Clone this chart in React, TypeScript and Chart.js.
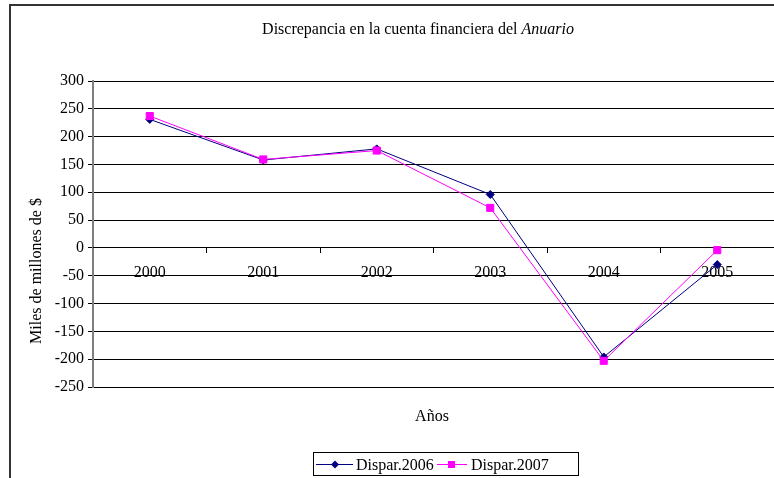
import React, { useEffect, useRef } from "react";
import { Chart, registerables } from "chart.js";

Chart.register(...registerables);

const categories = ["2000", "2001", "2002", "2003", "2004", "2005"];
const dispar2006 = [231, 158, 178, 96, -196, -30];
const dispar2007 = [237, 159, 175, 72, -203, -4];
const seriesNames = ["Dispar.2006", "Dispar.2007"];
const titleMain = "Discrepancia en la cuenta financiera del ";
const titleItalic = "Anuario";
const yTitle = "Miles de millones de $";
const xTitle = "Años";

const FONT = '"Liberation Serif", "Times New Roman", serif';
const FS = 16;
const NAVY = "#000080";
const MAGENTA = "#FF00FF";

const decorPlugin = {
  id: "decor",
  beforeDraw(chart: any) {
    const ctx = chart.ctx;
    ctx.save();
    ctx.fillStyle = "#ffffff";
    ctx.fillRect(0, 0, chart.width, chart.height);
    ctx.restore();
  },
  afterDraw(chart: any) {
    const ctx = chart.ctx;
    ctx.save();
    // outer frame
    ctx.strokeStyle = "#333333";
    ctx.lineWidth = 2;
    ctx.strokeRect(10, 5, 900, 600);

    // title
    ctx.fillStyle = "#000";
    ctx.textBaseline = "alphabetic";
    ctx.font = `${FS}px ${FONT}`;
    const w1 = ctx.measureText(titleMain).width;
    ctx.font = `italic ${FS}px ${FONT}`;
    const w2 = ctx.measureText(titleItalic).width;
    const tx = 418 - (w1 + w2) / 2;
    ctx.font = `${FS}px ${FONT}`;
    ctx.textAlign = "left";
    ctx.fillText(titleMain, tx, 34);
    ctx.font = `italic ${FS}px ${FONT}`;
    ctx.fillText(titleItalic, tx + w1, 34);

    // x title
    ctx.font = `${FS}px ${FONT}`;
    ctx.textAlign = "center";
    ctx.fillText(xTitle, 432, 421);

    // y title
    ctx.save();
    ctx.translate(41, 271);
    ctx.rotate(-Math.PI / 2);
    ctx.textAlign = "center";
    ctx.fillText(yTitle, 0, 0);
    ctx.restore();

    // legend
    ctx.strokeStyle = "#000";
    ctx.lineWidth = 1;
    ctx.strokeRect(313.5, 452.5, 265, 23);
    const ly = 464.5;
    // item 1
    ctx.strokeStyle = NAVY;
    ctx.beginPath();
    ctx.moveTo(316, ly);
    ctx.lineTo(353, ly);
    ctx.stroke();
    ctx.fillStyle = NAVY;
    ctx.beginPath();
    ctx.moveTo(335 - 4, ly);
    ctx.lineTo(335, ly - 4);
    ctx.lineTo(335 + 4, ly);
    ctx.lineTo(335, ly + 4);
    ctx.closePath();
    ctx.fill();
    ctx.fillStyle = "#000";
    ctx.textAlign = "left";
    ctx.font = `${FS}px ${FONT}`;
    ctx.fillText(seriesNames[0], 356, 470);
    // item 2
    ctx.strokeStyle = MAGENTA;
    ctx.beginPath();
    ctx.moveTo(437, ly);
    ctx.lineTo(467, ly);
    ctx.stroke();
    ctx.fillStyle = MAGENTA;
    ctx.fillRect(448, ly - 3.5, 7, 7);
    ctx.fillStyle = "#000";
    ctx.fillText(seriesNames[1], 471, 470);
    ctx.restore();
  },
};

export default function App() {
  const ref = useRef<HTMLCanvasElement | null>(null);
  useEffect(() => {
    if (!ref.current) return;
    const chart = new Chart(ref.current, {
      type: "line",
      data: {
        labels: categories,
        datasets: [
          {
            label: seriesNames[0],
            data: dispar2006,
            borderColor: NAVY,
            backgroundColor: NAVY,
            borderWidth: 1,
            pointStyle: "rectRot",
            pointRadius: 4,
            pointBorderWidth: 1,
            pointBackgroundColor: NAVY,
            pointBorderColor: NAVY,
            tension: 0,
            order: 1,
          },
          {
            label: seriesNames[1],
            data: dispar2007,
            borderColor: MAGENTA,
            backgroundColor: MAGENTA,
            borderWidth: 1,
            pointStyle: "rect",
            pointRadius: 5,
            pointBorderWidth: 1,
            pointBackgroundColor: MAGENTA,
            pointBorderColor: MAGENTA,
            tension: 0,
            order: 0,
          },
        ],
      },
      options: {
        responsive: false,
        animation: false,
        devicePixelRatio: 1,
        layout: { autoPadding: false, padding: { left: 0, top: 81, right: 0, bottom: 91 } },
        plugins: {
          legend: { display: false },
          title: { display: false },
          tooltip: { enabled: false },
        },
        scales: {
          y: {
            min: -250,
            max: 300,
            afterFit: (s: any) => {
              s.width = 93;
              s.paddingTop = 0;
              s.paddingBottom = 0;
            },
            ticks: {
              stepSize: 50,
              color: "#000",
              padding: 4,
              font: { family: FONT, size: FS },
            },
            grid: {
              color: "#000",
              lineWidth: 1,
              tickLength: 5,
              tickColor: "#000",
            },
            border: { display: true, color: "#808080", width: 2 },
          },
          x: {
            type: "category",
            position: { y: 0 } as any,
            offset: true,
            afterFit: (s: any) => {
              s.paddingLeft = 0;
              s.paddingRight = 0;
            },
            ticks: {
              color: "#000",
              padding: 10,
              maxRotation: 0,
              autoSkip: false,
              font: { family: FONT, size: FS },
            },
            grid: {
              offset: true,
              drawOnChartArea: false,
              drawTicks: true,
              tickLength: 5,
              color: "#000",
            },
            border: { display: true, color: "#000", width: 1 },
          },
        },
      },
      plugins: [decorPlugin],
    } as any);
    return () => chart.destroy();
  }, []);
  return (
    <div style={{ position: "fixed", left: 0, top: 0, width: 774, height: 478 }}>
      <canvas ref={ref} width={774} height={478} style={{ display: "block" }} />
    </div>
  );
}
